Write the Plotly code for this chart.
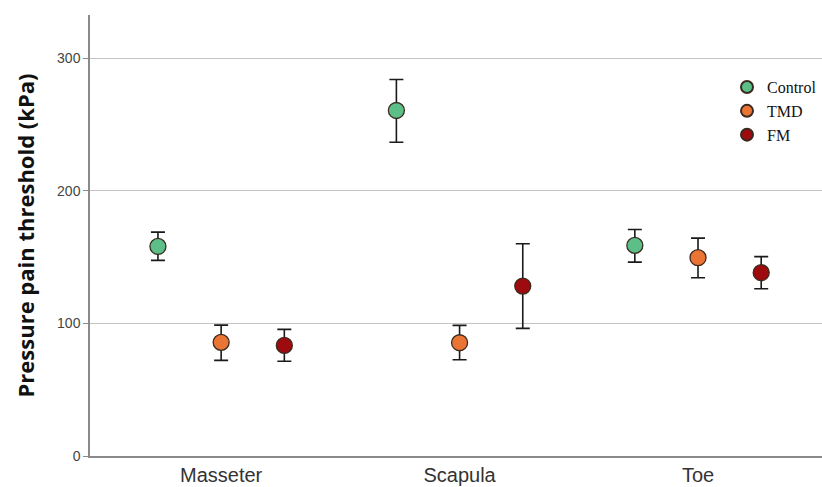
import plotly.graph_objects as go

# Muscle sites along the x axis
sites = ["Masseter", "Scapula", "Toe"]

# Mean pressure pain threshold (kPa) with upper / lower error bounds
control_mean = [158.0, 260.5, 158.8]
control_hi = [168.8, 283.9, 170.8]
control_lo = [147.5, 236.6, 146.2]

tmd_mean = [85.7, 85.4, 149.5]
tmd_hi = [98.7, 98.5, 164.3]
tmd_lo = [72.1, 72.6, 134.4]

fm_mean = [83.4, 128.1, 138.2]
fm_hi = [95.5, 160.0, 150.3]
fm_lo = [71.4, 96.2, 126.1]

y_ticks = [0, 100, 200, 300]

groups = [
    ("Control", control_mean, control_hi, control_lo, "#5cbf87"),
    ("TMD", tmd_mean, tmd_hi, tmd_lo, "#ea7434"),
    ("FM", fm_mean, fm_hi, fm_lo, "#9e0b0e"),
]

fig = go.Figure()
for name, mean, hi, lo, color in groups:
    fig.add_trace(go.Scatter(
        x=sites,
        y=mean,
        name=name,
        mode="markers",
        marker=dict(size=16, color=color, line=dict(color="#3a2a20", width=1.3)),
        error_y=dict(
            type="data",
            symmetric=False,
            array=[h - m for h, m in zip(hi, mean)],
            arrayminus=[m - l for m, l in zip(mean, lo)],
            color="#1a1a1a",
            thickness=1.6,
            width=7,
        ),
    ))

fig.update_layout(
    width=822,
    height=487,
    margin=dict(l=90, r=0, t=15, b=31),
    paper_bgcolor="white",
    plot_bgcolor="white",
    scattermode="group",
    scattergap=0.205,
    showlegend=True,
    legend=dict(
        x=1.0, y=0.875, xanchor="right", yanchor="top",
        font=dict(family="Liberation Serif", size=16, color="#111"),
        bgcolor="rgba(0,0,0,0)",
        itemsizing="constant",
        tracegroupgap=0,
    ),
    xaxis=dict(
        type="category",
        range=[-0.55, 2.52],
        showgrid=False,
        showline=True,
        linecolor="#8a8a8a",
        linewidth=1.5,
        ticks="",
        tickfont=dict(family="Liberation Sans", size=20, color="#333"),
        zeroline=False,
    ),
    yaxis=dict(
        range=[0, 332.5],
        tickvals=y_ticks,
        showgrid=True,
        gridcolor="#c4c4c4",
        gridwidth=1,
        showline=True,
        linecolor="#8a8a8a",
        linewidth=1.5,
        ticks="outside",
        ticklen=5,
        tickcolor="#8a8a8a",
        tickfont=dict(family="Liberation Sans", size=14, color="#444"),
        zeroline=False,
        title=dict(
            text="<b>Pressure pain threshold (kPa)</b>",
            font=dict(family="Open Sans", size=22, color="#111"),
            standoff=16,
        ),
    ),
)

fig.write_html("out.html")
